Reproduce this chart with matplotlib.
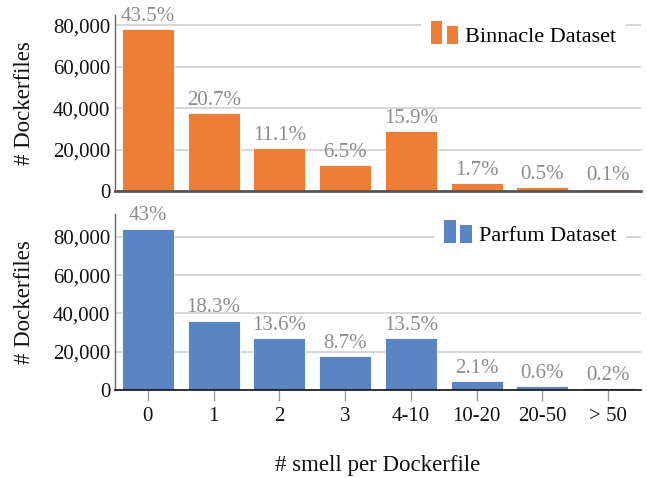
import matplotlib
matplotlib.use("Agg")
import matplotlib.pyplot as plt
from matplotlib.legend_handler import HandlerBase
from matplotlib.patches import Rectangle
from matplotlib.ticker import FuncFormatter

categories = ["0", "1", "2", "3", "4-10", "10-20", "20-50", "> 50"]
binnacle_counts = [78070, 37590, 20720, 12530, 28900, 3850, 1780, 1100]
binnacle_pct = ["43.5%", "20.7%", "11.1%", "6.5%", "15.9%", "1.7%", "0.5%", "0.1%"]
parfum_counts = [84200, 36190, 27150, 17750, 27000, 4700, 1930, 890]
parfum_pct = ["43%", "18.3%", "13.6%", "8.7%", "13.5%", "2.1%", "0.6%", "0.2%"]

ORANGE = "#EE7D35"
BLUE = "#5B84C4"
FONT = "Liberation Serif"
plt.rcParams["font.family"] = [FONT, "DejaVu Serif"]
FS_TICK = 15
FS_PCT = 15
FS_LEG = 16
FS_LAB = 16.5


class TwoBarHandler(HandlerBase):
    def create_artists(self, legend, orig_handle, xdescent, ydescent,
                       width, height, fontsize, trans):
        fc = orig_handle.get_facecolor()
        bw = width * 0.42
        y0 = -ydescent - 1.2
        r1 = Rectangle((-xdescent, y0), bw, height * 1.45, facecolor=fc,
                       edgecolor="none", transform=trans)
        r2 = Rectangle((-xdescent + width - bw, y0), bw, height * 1.18, facecolor=fc,
                       edgecolor="none", transform=trans)
        return [r1, r2]


W, H = 647, 478
fig = plt.figure(figsize=(W / 100, H / 100), dpi=100)
axL, axR = 115, 641
ax1 = fig.add_axes([axL / W, (H - 191) / H, (axR - axL) / W, 176 / H])
ax2 = fig.add_axes([axL / W, (H - 390) / H, (axR - axL) / W, 176 / H])

fmt = FuncFormatter(lambda v, p: f"{int(v):,}")

for ax, counts, pcts, color, ymax, name, spine_style in [
    (ax1, binnacle_counts, binnacle_pct, ORANGE, 85000, "Binnacle Dataset", ("#555555", 2.0)),
    (ax2, parfum_counts, parfum_pct, BLUE, 92000, "Parfum Dataset", ("#111111", 1.2)),
]:
    x = list(range(len(categories)))
    bars = ax.bar(x, counts, width=0.79, color=color, edgecolor="#ffffff", linewidth=0.6,
                  zorder=3, label=name)
    ax.set_xlim(-0.5, len(categories) - 0.5)
    ax.set_ylim(0, ymax)
    ax.set_yticks([0, 20000, 40000, 60000, 80000])
    ax.yaxis.set_major_formatter(fmt)
    ax.grid(axis="y", color="#d0d0d0", linewidth=1.2, zorder=0)
    ax.set_axisbelow(True)
    for s in ["top", "right"]:
        ax.spines[s].set_visible(False)
    ax.spines["left"].set_color("#666666")
    ax.spines["left"].set_linewidth(1.0)
    ax.spines["bottom"].set_color(spine_style[0])
    ax.spines["bottom"].set_linewidth(spine_style[1])
    ax.spines["bottom"].set_zorder(4)
    ax.tick_params(axis="y", length=0, labelsize=FS_TICK, pad=3.5, colors="#111111")
    for xi, v, t in zip(x, counts, pcts):
        ax.annotate(t, (xi, v), xytext=(0, 2.5), textcoords="offset points",
                    ha="center", va="bottom", color="#8c8c8c", fontsize=FS_PCT,
                    zorder=5, annotation_clip=False)
    ax.set_ylabel("# Dockerfiles", fontsize=FS_LAB, color="#111111")
    ax.yaxis.set_label_coords(-0.152, 0.5)
    leg = ax.legend(handler_map={type(bars.patches[0]): TwoBarHandler()},
                    handles=[bars.patches[0]], labels=[name],
                    loc="upper right", bbox_to_anchor=(0.972, 0.99),
                    fontsize=FS_LEG, frameon=True, fancybox=False,
                    framealpha=1, facecolor="white", edgecolor="none",
                    handlelength=1.25, handleheight=0.7, handletextpad=0.3,
                    borderpad=0.45, borderaxespad=0.0)
    leg.set_zorder(6)

ax1.set_xticks(range(len(categories)))
ax1.tick_params(axis="x", length=0, labelbottom=False)
ax2.set_xticks(range(len(categories)))
ax2.set_xticklabels(categories)
ax2.tick_params(axis="x", length=8, width=1, color="#999999", labelsize=FS_TICK, pad=4,
                labelcolor="#111111")
ax2.set_xlabel("# smell per Dockerfile", fontsize=FS_LAB, color="#111111", labelpad=21)

fig.savefig("out.png", dpi=100)
